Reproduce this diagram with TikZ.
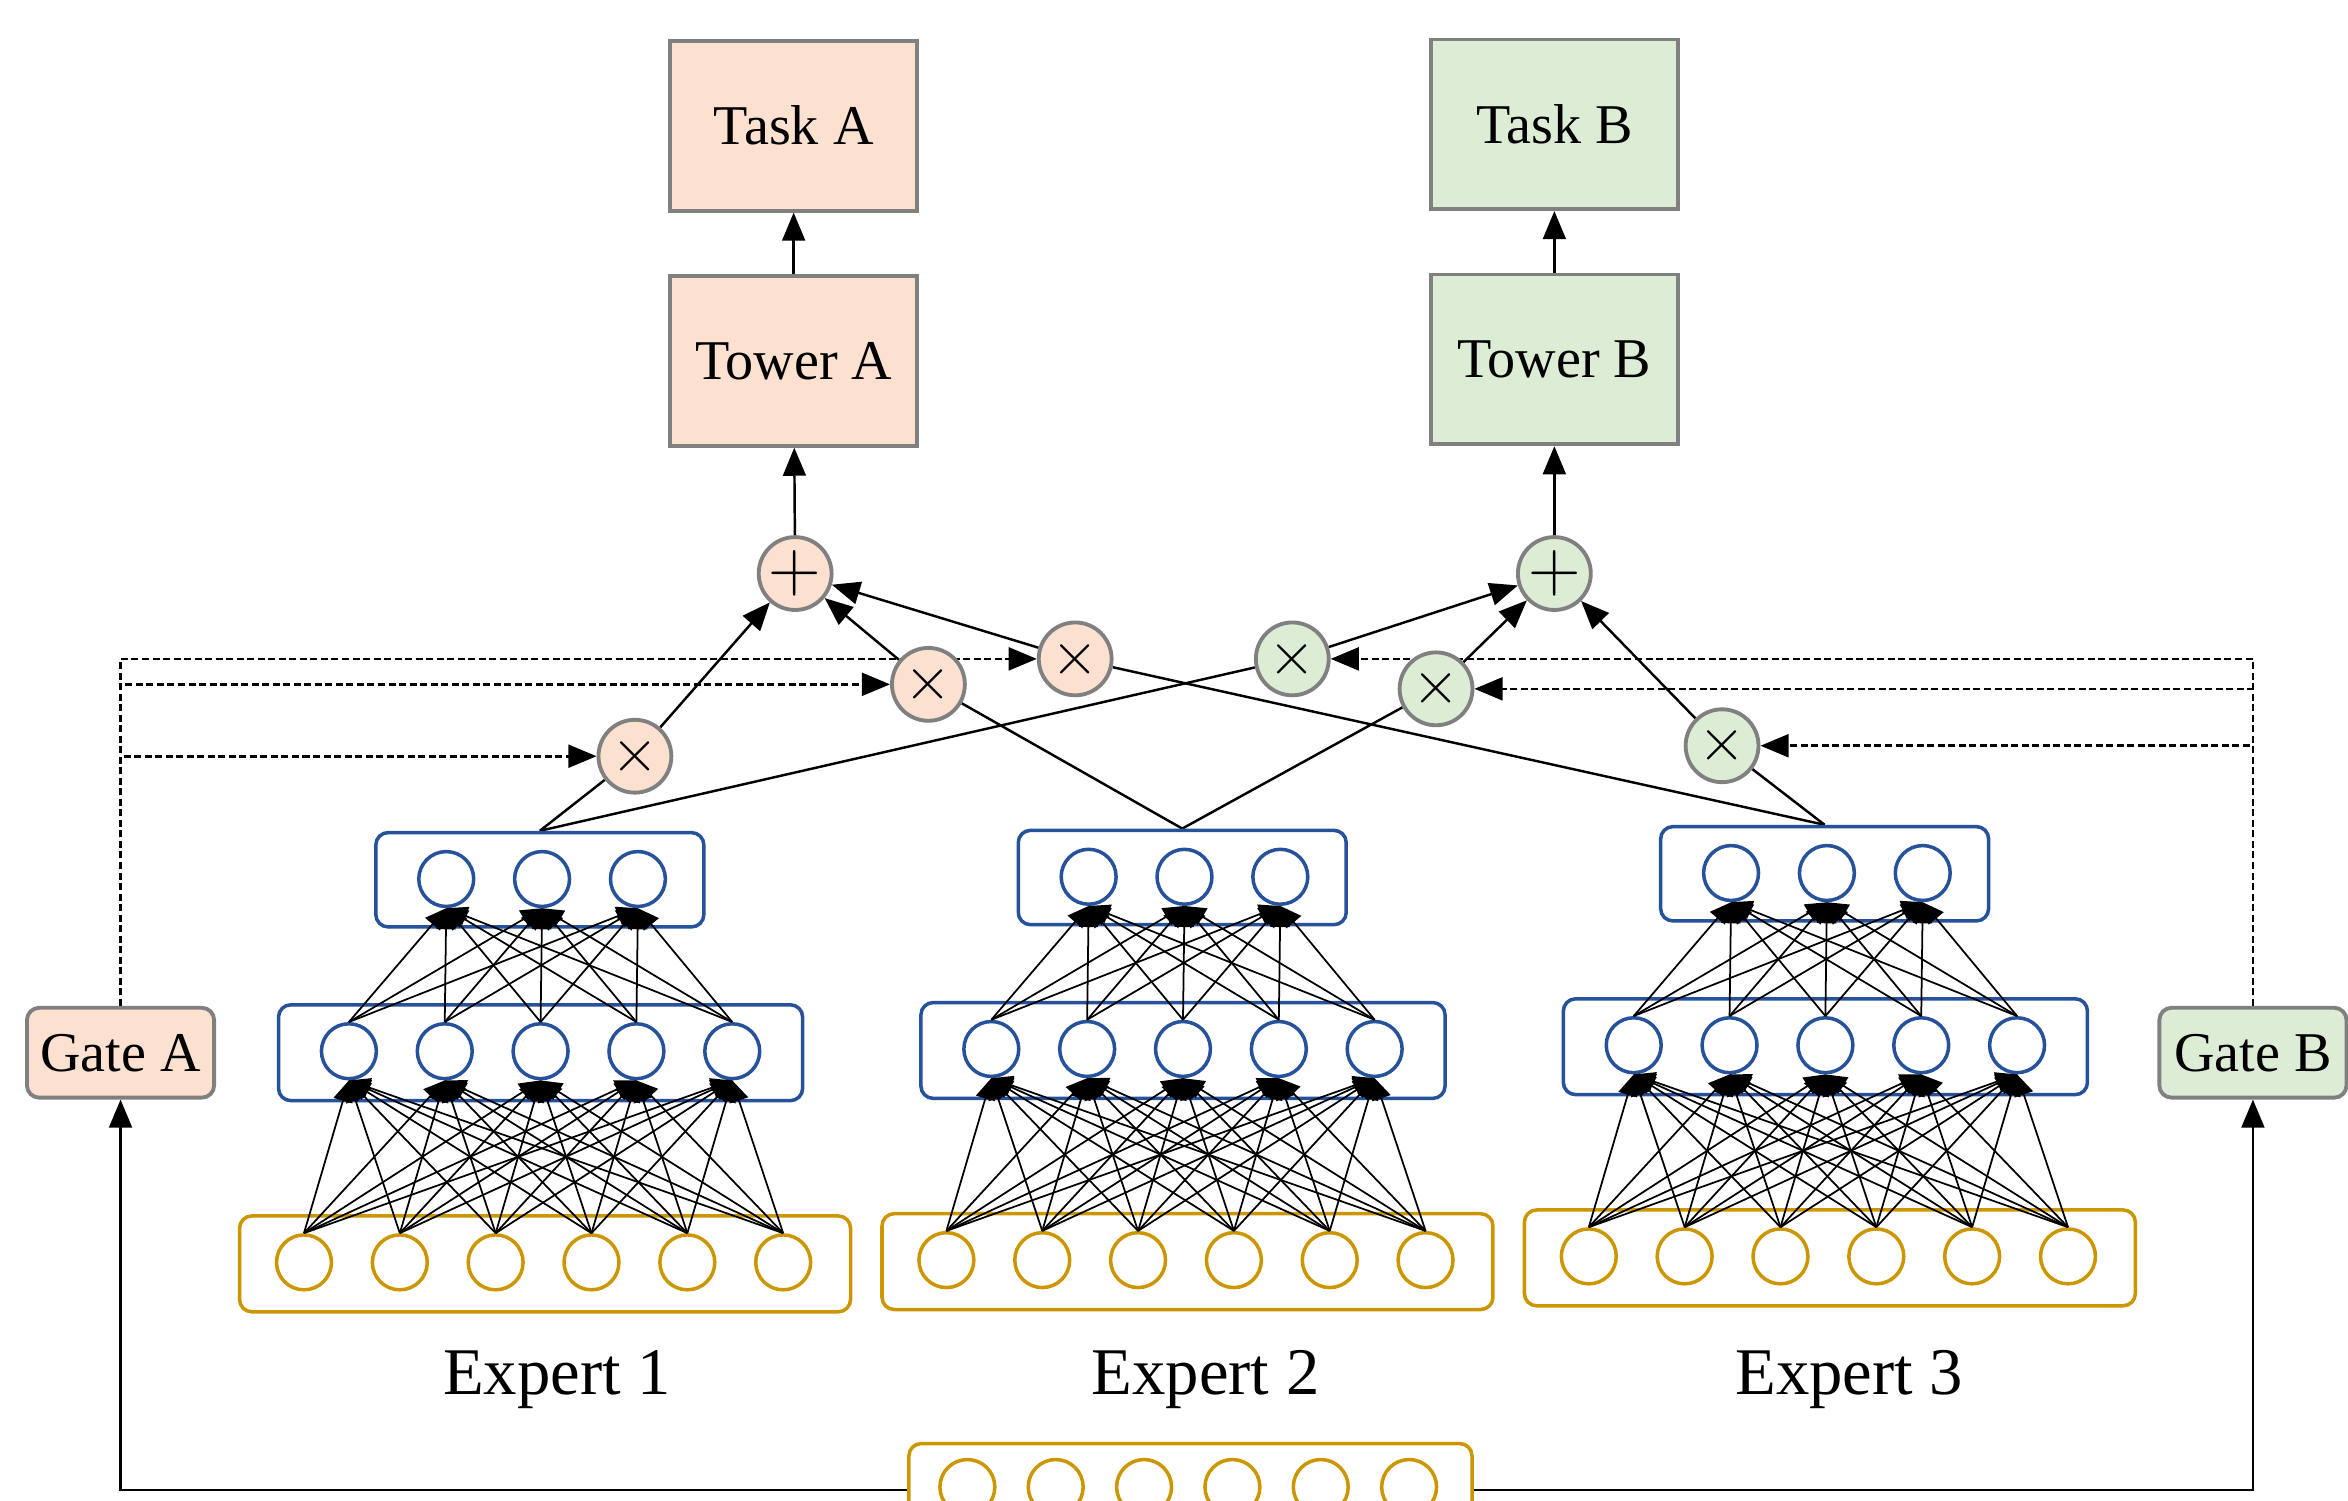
\documentclass[tikz,border=0pt]{standalone}
\usepackage{fontspec}
\setmainfont{Liberation Serif}
\usepackage{amsmath}
\usetikzlibrary{arrows.meta,backgrounds}

\definecolor{peach}{RGB}{252,224,208}
\definecolor{mint}{RGB}{221,236,213}
\definecolor{edgegray}{RGB}{128,128,128}
\definecolor{netblue}{RGB}{38,82,156}
\definecolor{netgold}{RGB}{204,150,0}

\tikzset{
  taskbox/.style={draw=edgegray, line width=1.1pt, fill=#1, minimum width=2.475cm, minimum height=1.7cm, inner sep=0pt, font=\fontsize{16}{19}\selectfont},
  gatebox/.style={draw=edgegray, line width=1.1pt, fill=#1, rounded corners=3.5pt, minimum width=1.875cm, minimum height=0.9cm, inner sep=0pt, font=\fontsize{16}{19}\selectfont},
  opnode/.style={circle, draw=edgegray, line width=1.1pt, fill=#1, minimum size=0.73cm, inner sep=0pt, font=\fontsize{18}{18}\selectfont},
  layerbox/.style={draw=#1, line width=1pt, rounded corners=3.5pt, inner sep=0pt},
  neuron/.style={circle, draw=#1, line width=1pt, minimum size=0.55cm, inner sep=0pt},
  link/.style={line width=0.5pt, -{Triangle[length=6pt,width=5.5pt]}},
  flow/.style={line width=0.7pt, -{Triangle[length=8pt,width=6.5pt]}},
  wire/.style={line width=0.7pt},
  gateline/.style={line width=0.75pt, dash pattern=on 2pt off 1pt, -{Triangle[length=8pt,width=6.5pt]}}
}

\begin{document}
\begin{tikzpicture}[x=0.15mm, y=-0.15mm]
\useasboundingbox (0,0) rectangle (1568,1002);
\clip (0,0) rectangle (1568,1002);

\node[taskbox=peach] (taskA) at (530,84) {Task A};
\node[taskbox=peach] (towerA) at (530,241) {Tower A};
\node[taskbox=mint] (taskB) at (1038,83) {Task B};
\node[taskbox=mint] (towerB) at (1038,240) {Tower B};

\node[opnode=peach, font=\fontsize{20}{20}\selectfont] (sumA) at (531,383) {$+$};
\node[opnode=mint, font=\fontsize{20}{20}\selectfont] (sumB) at (1038,383) {$+$};

\node[opnode=peach] (mulA1) at (424,505) {$\times$};
\node[opnode=peach] (mulA2) at (620,457) {$\times$};
\node[opnode=peach] (mulA3) at (718,440) {$\times$};
\node[opnode=mint] (mulB1) at (863,440) {$\times$};
\node[opnode=mint] (mulB2) at (959,460) {$\times$};
\node[opnode=mint] (mulB3) at (1150,498) {$\times$};

\node[gatebox=peach] (gateA) at (80.5,703) {Gate A};
\node[gatebox=mint] (gateB) at (1504.5,703) {Gate B};

% the three experts
\foreach \e/\dx/\dy/\lx in {1/0/0/372, 2/429/-1.5/805, 3/858/-4/1235} {
  \node[layerbox=netblue, minimum width=3.285cm, minimum height=0.945cm] (top\e) at ({360.5+\dx},{587.5+\dy}) {};
  \node[layerbox=netblue, minimum width=5.25cm, minimum height=0.96cm] (mid\e) at ({361+\dx},{703+\dy}) {};
  \node[layerbox=netgold, minimum width=6.12cm, minimum height=0.96cm] (bot\e) at ({364+\dx},{844+\dy}) {};
  \foreach \k in {0,1,2}
    \node[neuron=netblue] (out\e\k) at ({298+\dx+64*\k},{587+\dy}) {};
  \foreach \j in {0,...,4}
    \node[neuron=netblue] (hid\e\j) at ({233+\dx+64*\j},{702+\dy}) {};
  \foreach \i in {0,...,5}
    \node[neuron=netgold] (in\e\i) at ({203+\dx+64*\i},{843+\dy}) {};
  \foreach \i in {0,...,5}
    \foreach \j in {0,...,4}
      \draw[link] (in\e\i.north) -- (hid\e\j.south);
  \foreach \j in {0,...,4}
    \foreach \k in {0,1,2}
      \draw[link] (hid\e\j.north) -- (out\e\k.south);
  \node[font=\fontsize{19}{22}\selectfont] (lbl\e) at (\lx,921) {Expert \e};
}

\node[layerbox=netgold, minimum width=5.64cm, minimum height=0.93cm] (inbox) at (795,995) {};
\foreach \i in {0,...,5}
  \node[neuron=netgold] (x\i) at ({646+59*\i},993) {};

\begin{pgfonlayer}{background}
\draw[flow] (inbox.west) -| (gateA.south);
\draw[flow] (inbox.east) -| (gateB.south);
\foreach \e in {1,2,3} {
  \draw[gateline] (gateA.north) |- (mulA\e);
  \draw[gateline] (gateB.north) |- (mulB\e);
  \draw[wire] (top\e.north) -- (mulA\e);
  \draw[wire] (top\e.north) -- (mulB\e);
  \draw[flow] (mulA\e) -- (sumA);
  \draw[flow] (mulB\e) -- (sumB);
}
\draw[flow] (sumA) -- (towerA);
\draw[flow] (towerA) -- (taskA);
\draw[flow] (sumB) -- (towerB);
\draw[flow] (towerB) -- (taskB);
\end{pgfonlayer}
\end{tikzpicture}
\end{document}
